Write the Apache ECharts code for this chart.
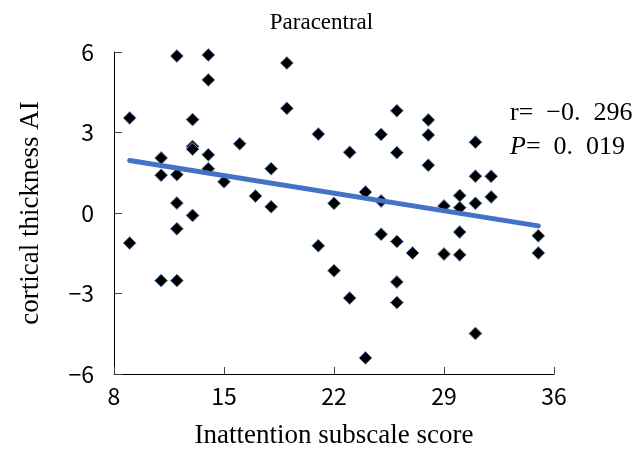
<!DOCTYPE html>
<html>
<head>
<meta charset="utf-8">
<script src="https://cdn.jsdelivr.net/npm/echarts@6/dist/echarts.min.js"></script>
<style>
  html, body { margin: 0; padding: 0; background: #fff; }
  #chart { width: 643px; height: 454px; }
</style>
</head>
<body>
<div id="chart"></div>
<script>
// 散点 + 拟合线
let scoreX = [9, 9, 11, 11, 11, 12, 12, 12, 12, 12, 13, 13, 13, 13, 14, 14, 14, 14,
  15, 16, 17, 18, 18, 19, 19, 21, 21, 22, 22, 23, 23, 24, 24, 25, 25, 25,
  26, 26, 26, 26, 26, 27, 28, 28, 28, 29, 29, 30, 30, 30, 30, 31, 31, 31, 31,
  32, 32, 35, 35]
let thickAI = [3.54, -1.12, 2.05, 1.41, -2.52, 5.85, 1.43, 0.37, -0.59, -2.52, 3.48, 2.48, 2.38, -0.09, 5.89, 4.96, 2.17, 1.65,
  1.16, 2.58, 0.63, 1.65, 0.23, 5.59, 3.90, 2.94, -1.22, 0.36, -2.15, 2.26, -3.17, 0.78, -5.40, 2.93, 0.45, -0.79,
  3.81, 2.25, -1.06, -2.57, -3.34, -1.49, 3.47, 2.91, 1.78, 0.26, -1.53, 0.65, 0.20, -0.71, -1.56, 2.64, 1.37, 0.36, -4.49,
  1.37, 0.60, -0.85, -1.49]
let fitX = [9, 35]
let fitY = [1.96, -0.48]
let xTicks = [8, 15, 22, 29, 36]
let yTicks = [-6, -3, 0, 3, 6]

let chartDom = document.getElementById('chart')
let myChart = echarts.init(chartDom)
let serif = '"Liberation Serif", "Times New Roman", serif'
let sans = '"Noto Sans CJK SC", "Noto Sans", sans-serif'

let option = {
  animation: false,
  title: {
    text: 'Paracentral',
    left: 'center',
    top: 6,
    textStyle: { fontFamily: serif, fontSize: 23, fontWeight: 'normal', color: '#000' }
  },
  grid: { left: 114, right: 89, top: 52, bottom: 79 },
  xAxis: {
    type: 'value',
    min: xTicks[0],
    max: xTicks[xTicks.length - 1],
    interval: 7,
    name: 'Inattention subscale score',
    nameLocation: 'middle',
    nameGap: 48,
    nameTextStyle: { fontFamily: serif, fontSize: 27, color: '#000' },
    axisLine: { onZero: false, lineStyle: { color: '#000', width: 1 } },
    axisTick: { inside: true, length: 7, lineStyle: { color: '#444' } },
    axisLabel: { fontFamily: sans, fontSize: 23, color: '#000', margin: 11 },
    splitLine: { show: false }
  },
  yAxis: {
    type: 'value',
    min: yTicks[0],
    max: yTicks[yTicks.length - 1],
    interval: 3,
    name: 'cortical thickness AI',
    nameLocation: 'middle',
    nameGap: 70,
    nameTextStyle: { fontFamily: serif, fontSize: 27, color: '#000' },
    axisLine: { show: true, onZero: false, lineStyle: { color: '#000', width: 1 } },
    axisTick: { show: true, inside: true, length: 8, lineStyle: { color: '#444' } },
    axisLabel: {
      fontFamily: sans, fontSize: 23, color: '#000', margin: 20,
      formatter: function (v) { return String(v).replace('-', '\u2212') }
    },
    splitLine: { show: false }
  },
  graphic: [
    {
      type: 'text',
      left: 510,
      top: 100,
      style: {
        text: 'r=  \u22120.  296',
        fontFamily: serif,
        fontSize: 26,
        fill: '#000'
      }
    },
    {
      type: 'text',
      left: 510,
      top: 134,
      style: {
        text: '{i|P}{n|=  0.  019}',
        fill: '#000',
        rich: {
          i: { fontFamily: serif, fontSize: 26, fontStyle: 'italic', fill: '#000' },
          n: { fontFamily: serif, fontSize: 26, fill: '#000' }
        }
      }
    }
  ],
  series: [
    {
      type: 'scatter',
      symbol: 'diamond',
      symbolSize: 13,
      data: scoreX.map(function (x, i) { return [x, thickAI[i]] }),
      itemStyle: { color: '#000', borderColor: '#7b98c8', borderWidth: 1, opacity: 1 },
      z: 2
    },
    {
      type: 'line',
      data: fitX.map(function (x, i) { return [x, fitY[i]] }),
      showSymbol: false,
      symbol: 'none',
      lineStyle: { color: '#4472c4', width: 5, cap: 'round' },
      z: 3
    }
  ]
}

myChart.setOption(option, true)
window.addEventListener('resize', () => {
  myChart.resize()
})
</script>
</body>
</html>
